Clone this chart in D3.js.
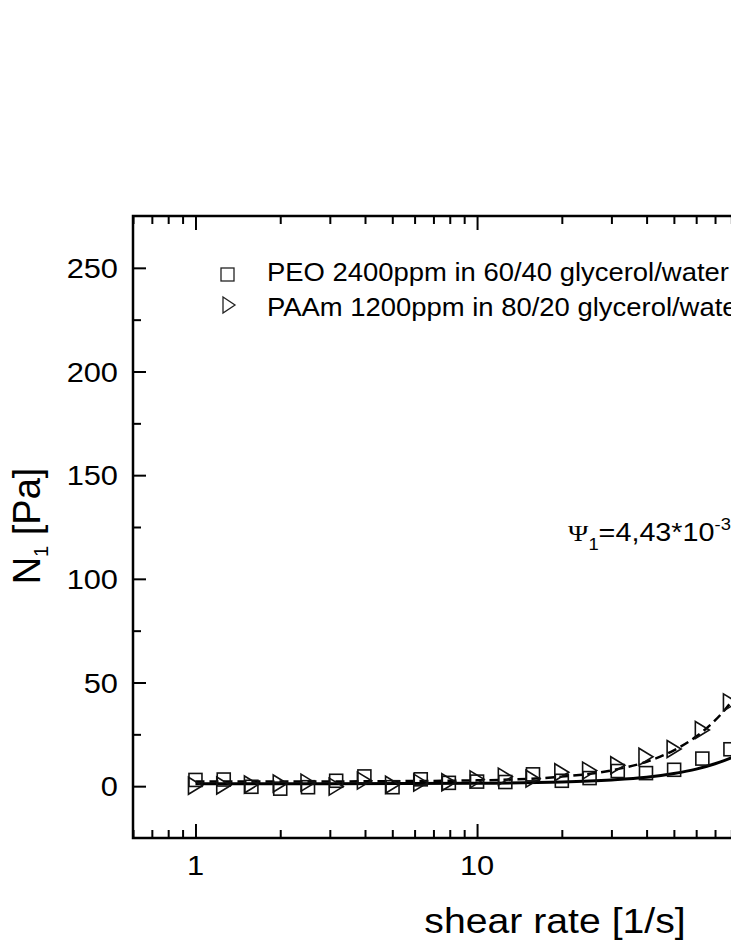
<!DOCTYPE html>
<html>
<head>
<meta charset="utf-8">
<script src="https://cdn.jsdelivr.net/npm/d3@7"></script>
<style>
  body { margin: 0; overflow: hidden; background: #fff; }
  svg { display: block; }
  text { font-family: "Liberation Sans", Arial, sans-serif; fill: #000; }
</style>
</head>
<body>
<script>
// Measured shear rates (10 points per decade)
var shearRate = [1, 1.26, 1.58, 2.0, 2.51, 3.16, 3.98, 5.01, 6.31, 7.94,
                 10, 12.6, 15.8, 20.0, 25.1, 31.6, 39.8, 50.1, 63.1, 79.4];

// N1 values
var peoN1  = [3.0, 3.2, -0.3, -1.2, -0.5, 2.6, 4.7, -0.5, 3.3, 1.6,
              2.2, 2.0, 5.7, 2.6, 3.9, 7.3, 6.3, 7.9, 13.3, 17.8];
var paamN1 = [0.2, 0.3, 0.8, 1.3, 1.7, -0.2, 2.7, 0.7, 1.7, 1.9,
              3.3, 4.6, 3.6, 6.7, 7.5, 10.1, 14.2, 17.9, 27.1, 40.4];

// Fit curves
var fitRate = [1, 3, 10, 20, 30, 40, 50, 60, 70, 80, 100];
var peoFit  = [1.2, 1.2, 1.4, 2.0, 3.0, 4.3, 6.1, 8.2, 10.8, 13.7, 20.7];
var paamFit = [2.3, 2.3, 2.8, 4.6, 7.6, 11.8, 17.3, 23.9, 31.7, 40.7, 62.3];

var xTickValues = [1, 10, 100];
var xTickLabels = [1, 10];   // the 100 label lies past the right edge of the picture
var yTickValues = [0, 50, 100, 150, 200, 250];
var legendLabels = ["PEO 2400ppm in 60/40 glycerol/water",
                    "PAAm 1200ppm in 80/20 glycerol/water"];

// SVG area
var svgWidth = 731;
var svgHeight = 946;
var chartMargin = { top: 216, left: 133 };
var chartWidth = 760;
var chartHeight = 622;

var svg = d3.select("body")
  .append("svg")
  .attr("width", svgWidth)
  .attr("height", svgHeight);

var chartGroup = svg.append("g")
  .attr("transform", `translate(${chartMargin.left}, ${chartMargin.top})`);

var xLogScale = d3.scaleLog().domain([0.6, 300]).range([0, chartWidth]);
var yLinearScale = d3.scaleLinear().domain([-25, 275]).range([chartHeight, 0]);

// helper: text stretched horizontally like the original
function stretchedText(parent, x, y, sx, size, anchor, str) {
  return parent.append("text")
    .attr("transform", `translate(${x}, ${y}) scale(${sx}, 1)`)
    .attr("text-anchor", anchor)
    .style("font-size", size + "px")
    .text(str);
}

// ticks (inward)
var xMinor = xLogScale.ticks().filter(d => xTickValues.indexOf(d) < 0);
var yMinor = d3.range(25, 275, 50);

function styleAxis(g) {
  g.select(".domain").remove();
  g.selectAll("line").attr("stroke", "#000").attr("stroke-width", 2);
}

chartGroup.append("g")
  .attr("transform", `translate(0, ${chartHeight})`)
  .call(d3.axisBottom(xLogScale).tickValues(xTickValues).tickSize(-14).tickFormat(""))
  .call(styleAxis);
chartGroup.append("g")
  .attr("transform", `translate(0, ${chartHeight})`)
  .call(d3.axisBottom(xLogScale).tickValues(xMinor).tickSize(-8).tickFormat(""))
  .call(styleAxis);
chartGroup.append("g")
  .call(d3.axisTop(xLogScale).tickValues(xTickValues).tickSize(-14).tickFormat(""))
  .call(styleAxis);
chartGroup.append("g")
  .call(d3.axisTop(xLogScale).tickValues(xMinor).tickSize(-8).tickFormat(""))
  .call(styleAxis);
chartGroup.append("g")
  .call(d3.axisLeft(yLinearScale).tickValues(yTickValues).tickSize(-13).tickFormat(""))
  .call(styleAxis);
chartGroup.append("g")
  .call(d3.axisLeft(yLinearScale).tickValues(yMinor).tickSize(-8).tickFormat(""))
  .call(styleAxis);

// frame
chartGroup.append("rect")
  .attr("width", chartWidth)
  .attr("height", chartHeight)
  .attr("fill", "none")
  .attr("stroke", "#000")
  .attr("stroke-width", 2.5);

// tick labels
xTickLabels.forEach(function(v) {
  stretchedText(chartGroup, xLogScale(v), chartHeight + 37, 1.1, 28, "middle", v);
});
yTickValues.forEach(function(v) {
  stretchedText(chartGroup, -15, yLinearScale(v) + 10, 1.1, 28, "end", v);
});

// axis titles
stretchedText(svg, 555, 933, 1.12, 35, "middle", "shear rate [1/s]");

var yTitle = svg.append("text")
  .attr("transform", "translate(40, 526) rotate(-90)")
  .attr("text-anchor", "middle")
  .style("font-size", "38px");
yTitle.append("tspan").text("N");
yTitle.append("tspan").attr("dy", 8).style("font-size", "20px").text("1");
yTitle.append("tspan").attr("dy", -8).text(" [Pa]");

// clip for the curves and markers
svg.append("defs").append("clipPath").attr("id", "plotClip")
  .append("rect").attr("width", chartWidth).attr("height", chartHeight);
var plotArea = chartGroup.append("g").attr("clip-path", "url(#plotClip)");

var line = d3.line()
  .x(d => xLogScale(d[0]))
  .y(d => yLinearScale(d[1]))
  .curve(d3.curveMonotoneX);

plotArea.append("path")
  .datum(d3.zip(fitRate, peoFit))
  .attr("d", line)
  .attr("fill", "none")
  .attr("stroke", "#000")
  .attr("stroke-width", 3);

plotArea.append("path")
  .datum(d3.zip(fitRate, paamFit))
  .attr("d", line)
  .attr("fill", "none")
  .attr("stroke", "#000")
  .attr("stroke-width", 2.5)
  .attr("stroke-dasharray", "9,5");

var triPath = "M-7,-8.5 L7,0 L-7,8.5 Z";

plotArea.selectAll(".sq")
  .data(d3.zip(shearRate, peoN1))
  .enter()
  .append("rect")
  .attr("class", "sq")
  .attr("x", d => xLogScale(d[0]) - 6.5)
  .attr("y", d => yLinearScale(d[1]) - 6.5)
  .attr("width", 13)
  .attr("height", 13)
  .attr("fill", "none")
  .attr("stroke", "#111")
  .attr("stroke-width", 1.6);

plotArea.selectAll(".tri")
  .data(d3.zip(shearRate, paamN1))
  .enter()
  .append("path")
  .attr("class", "tri")
  .attr("d", triPath)
  .attr("transform", d => `translate(${xLogScale(d[0])}, ${yLinearScale(d[1])})`)
  .attr("fill", "none")
  .attr("stroke", "#111")
  .attr("stroke-width", 1.6);

// legend
svg.append("rect")
  .attr("x", 221).attr("y", 268).attr("width", 13).attr("height", 13)
  .attr("fill", "none").attr("stroke", "#222").attr("stroke-width", 1.3);
svg.append("path")
  .attr("d", "M-6,-8 L6,0 L-6,8 Z")
  .attr("transform", "translate(229, 305)")
  .attr("fill", "none").attr("stroke", "#222").attr("stroke-width", 1.3);
legendLabels.forEach(function(label, i) {
  stretchedText(svg, 267, 281 + i * 35, 1.055, 26, "start", label);
});

// annotation
var note = svg.append("text")
  .attr("transform", "translate(568, 541) scale(1.15, 1)")
  .style("font-size", "25px");
note.append("tspan").style("font-family", "'Liberation Serif', serif").style("font-size", "24px").text("\u03A8");
note.append("tspan").attr("dy", 9).style("font-size", "16px").text("1");
note.append("tspan").attr("dy", -9).text("=4,43*10");
note.append("tspan").attr("dy", -11).style("font-size", "16px").text("-3");
</script>
</body>
</html>
